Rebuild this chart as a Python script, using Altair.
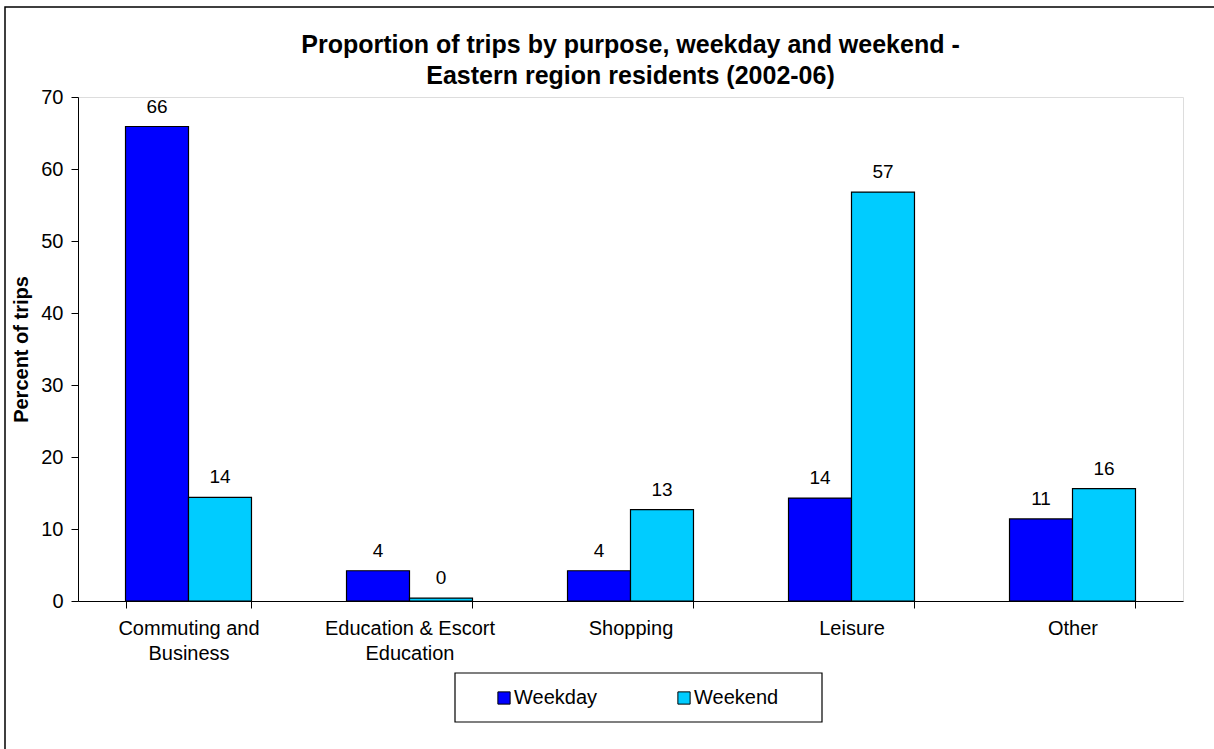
import altair as alt
import pandas as pd

# Trip purpose categories (line breaks mark the two-line axis labels)
purposes = [
    "Commuting and\nBusiness",
    "Education & Escort\nEducation",
    "Shopping",
    "Leisure",
    "Other",
]
weekday = [65.9, 4.2, 4.2, 14.3, 11.4]
weekend = [14.4, 0.4, 12.7, 56.8, 15.6]
series = ["Weekday", "Weekend"]
series_colors = ["#0000FF", "#00CCFF"]

rows = []
for p, wd, we in zip(purposes, weekday, weekend):
    rows.append({"purpose": p, "day": "Weekday", "pct": wd})
    rows.append({"purpose": p, "day": "Weekend", "pct": we})
df = pd.DataFrame(rows)

FONT = "Liberation Sans"
W, H = 1105, 504

x_enc = alt.X(
    "purpose:N",
    sort=purposes,
    scale=alt.Scale(paddingInner=0.43, paddingOuter=0.215),
    axis=alt.Axis(
        title=None,
        labelAngle=0,
        labelExpr="datum.value ? split(datum.value, '\\n') : ''",
        labelFontSize=20,
        labelFont=FONT,
        labelColor="black",
        labelPadding=10,
        labelLineHeight=25,
        tickBand="extent",
        tickSize=7,
        tickColor="black",
        domainColor="black",
        labelBaseline="top",
    ),
)
x_off = alt.XOffset("day:N", sort=series, scale=alt.Scale(paddingInner=0, paddingOuter=0))
y_enc = alt.Y(
    "pct:Q",
    scale=alt.Scale(domain=[0, 70], nice=False),
    axis=alt.Axis(
        title="Percent of trips",
        values=[0, 10, 20, 30, 40, 50, 60, 70],
        grid=False,
        labelFontSize=20,
        labelFont=FONT,
        labelColor="black",
        labelPadding=8,
        tickSize=7,
        tickColor="black",
        domainColor="black",
        titleFont=FONT,
        titleFontSize=20,
        titleFontWeight="bold",
        titleColor="black",
        titlePadding=9,
    ),
)

bars = alt.Chart(df).mark_bar(stroke="black", strokeWidth=1.2).encode(
    x=x_enc,
    xOffset=x_off,
    y=y_enc,
    color=alt.Color(
        "day:N",
        sort=series,
        scale=alt.Scale(domain=series, range=series_colors),
        legend=alt.Legend(
            title=None,
            orient="none",
            direction="horizontal",
            legendX=416,
            legendY=591,
            symbolType="square",
            symbolSize=150,
            symbolStrokeColor="black",
            symbolStrokeWidth=1,
            labelFontSize=20,
            labelFont=FONT,
            labelColor="black",
            labelOffset=0,
            columnPadding=76,
            padding=0,
        ),
    ),
)

labels = alt.Chart(df).mark_text(
    dy=-14, baseline="alphabetic", fontSize=19, font=FONT, color="black"
).encode(
    x=alt.X("purpose:N", sort=purposes),
    xOffset=alt.XOffset("day:N", sort=series),
    y="pct:Q",
    text=alt.Text("pct:Q", format=".0f"),
)

frame_df = pd.DataFrame({"k": [0]})
# Outer chart border
outer = alt.Chart(frame_df).mark_rect(
    fill=None, stroke="black", strokeWidth=1.5
).encode(
    x=alt.value(-73), x2=alt.value(1200), y=alt.value(-90), y2=alt.value(700)
)
# Box around the legend
legend_box = alt.Chart(frame_df).mark_rect(
    fill="white", stroke="black", strokeWidth=1.2
).encode(
    x=alt.value(377), x2=alt.value(744), y=alt.value(576), y2=alt.value(625)
)

chart = (
    alt.layer(outer, legend_box, bars, labels)
    .properties(
        width=W,
        height=H,
        title=alt.Title(
            ["Proportion of trips by purpose, weekday and weekend -",
             "Eastern region residents (2002-06)"],
            font=FONT,
            fontSize=25,
            fontWeight="bold",
            color="black",
            anchor="middle",
            lineHeight=31,
            offset=12,
            dy=95,
        ),
        autosize=alt.AutoSizeParams(type="none"),
        padding={"left": 78, "top": 97, "right": 31, "bottom": 148},
    )
    .configure_view(stroke="#808080", strokeWidth=1.5)
    .configure(background="white")
)

chart.save("out.html", embed_options={"renderer": "svg", "actions": False})
